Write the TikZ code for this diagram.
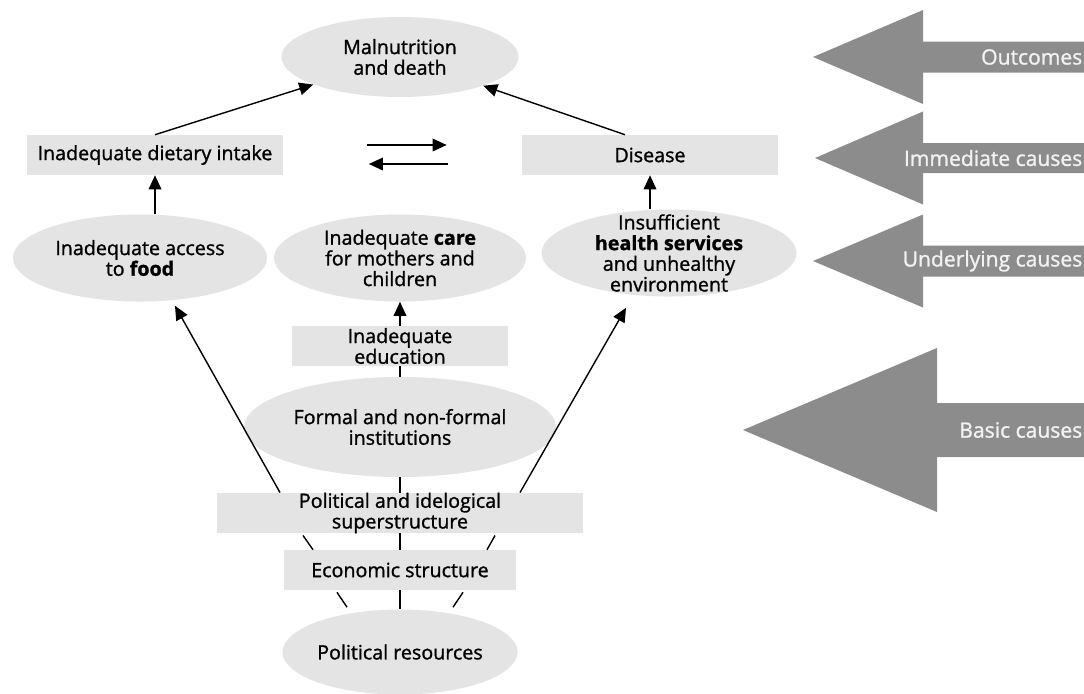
\documentclass[tikz,border=0pt]{standalone}
\usepackage{fontspec}
\setmainfont{Open Sans}[FakeBold=1.2]
\usetikzlibrary{shapes.geometric,arrows.meta,calc}
\definecolor{boxgray}{HTML}{E4E4E4}
\definecolor{arrowgray}{HTML}{8C8C8C}
\definecolor{labelgray}{HTML}{F2F2F2}
\begin{document}
\begin{tikzpicture}[x=0.025cm,y=-0.025cm,
    font=\fontsize{14}{14.7}\selectfont,
    box/.style={rectangle,fill=boxgray,inner sep=0pt,align=center,minimum height=1cm},
    oval/.style={ellipse,fill=boxgray,inner xsep=-10pt,inner ysep=-8pt,align=center},
    link/.style={line width=1pt},
    arr/.style={line width=1pt,-{Triangle[length=10pt,width=9pt]}},
    bigarrow/.style={fill=arrowgray},
    level/.style={text=labelgray,anchor=east,inner sep=1pt,font=\fontsize{15}{16}\selectfont}]
  \useasboundingbox (0,0) rectangle (1084,693);
  % the levels on the right
  \foreach \tx/\cy/\hh/\sh/\bx/\txt [count=\i] in {813/57/47/15.5/923/Outcomes,
      815/158/46.5/15/923/Immediate causes, 813/261/46.5/15.5/923/Underlying causes,
      743/430/82/27/937/Basic causes}
  {
    \fill[bigarrow] (\tx,\cy) -- (\bx,\cy-\hh) -- (\bx,\cy-\sh) -- (1084,\cy-\sh)
      -- (1084,\cy+\sh) -- (\bx,\cy+\sh) -- (\bx,\cy+\hh) -- cycle;
    \node[level] (lev\i) at (1084,\cy) {\txt};
  }
  % outcomes and immediate causes
  \node[oval,minimum width=5.925cm,minimum height=2cm] (mal) at (400,57) {Malnutrition\\and death};
  \node[box,minimum width=6.375cm] (diet) at (155,155) {Inadequate dietary intake};
  \node[box,minimum width=6.4cm] (dis) at (650,155) {Disease};
  % underlying causes
  \node[oval,minimum width=6.35cm,minimum height=2.175cm] (food) at (140,258) {Inadequate access\\to \textbf{food}};
  \node[oval,minimum width=6.3cm,minimum height=2.175cm] (care) at (400,258) {Inadequate \textbf{care}\\for mothers and\\children};
  \node[oval,minimum width=6.375cm,minimum height=2.175cm] (health) at (669,253) {Insufficient\\\textbf{health services}\\and unhealthy\\environment};
  % basic causes
  \node[box,minimum width=5.4cm] (edu) at (400,346) {Inadequate\\education};
  \node[oval,minimum width=7.8cm,minimum height=2.5cm] (inst) at (400,427) {Formal and non-formal\\institutions};
  \node[box,minimum width=9.125cm] (sup) at (400,513) {Political and idelogical\\superstructure};
  \node[box,minimum width=5.8cm] (econ) at (400,570) {Economic structure};
  \node[oval,minimum width=5.875cm,minimum height=2.125cm] (res) at (400,652) {Political resources};
  % arrows
  \draw[arr] (diet.north) -- (mal);
  \draw[arr] ($(dis.north)+(-25,0)$) -- (mal);
  \draw[arr,shorten <=2.1cm,shorten >=1.875cm] ([yshift=0.25cm]diet.east) -- ([yshift=0.25cm]dis.west);
  \draw[arr,shorten <=1.85cm,shorten >=2.15cm] ([yshift=-0.225cm]dis.west) -- ([yshift=-0.225cm]diet.east);
  \draw[arr] (diet.south |- food.north) -- (diet.south);
  \draw[arr] (dis.south |- health.north) -- (dis.south);
  \draw[arr] (edu) -- (care);
  \draw[arr] ($(sup.north)+(-120,0)$) -- ($(food.south)+(35,4)$);
  \draw[arr] ($(sup.north)+(120,0)$) -- ($(health.south)+(-43,11)$);
  % plain links
  \draw[link] (edu) -- (inst);
  \draw[link] (inst) -- (sup);
  \draw[link] (sup) -- (econ);
  \draw[link] ($(sup.south)+(-97,2)$) -- ($(econ.north)+(-87,0)$);
  \draw[link] ($(sup.south)+(95,2)$) -- ($(econ.north)+(87,0)$);
  \draw[link] (econ) -- (res);
  \draw[link] ($(econ.south)+(-63,2)$) -- ($(res.north)+(-53,-2)$);
  \draw[link] ($(econ.south)+(63,2)$) -- ($(res.north)+(53,-2)$);
\end{tikzpicture}
\end{document}
